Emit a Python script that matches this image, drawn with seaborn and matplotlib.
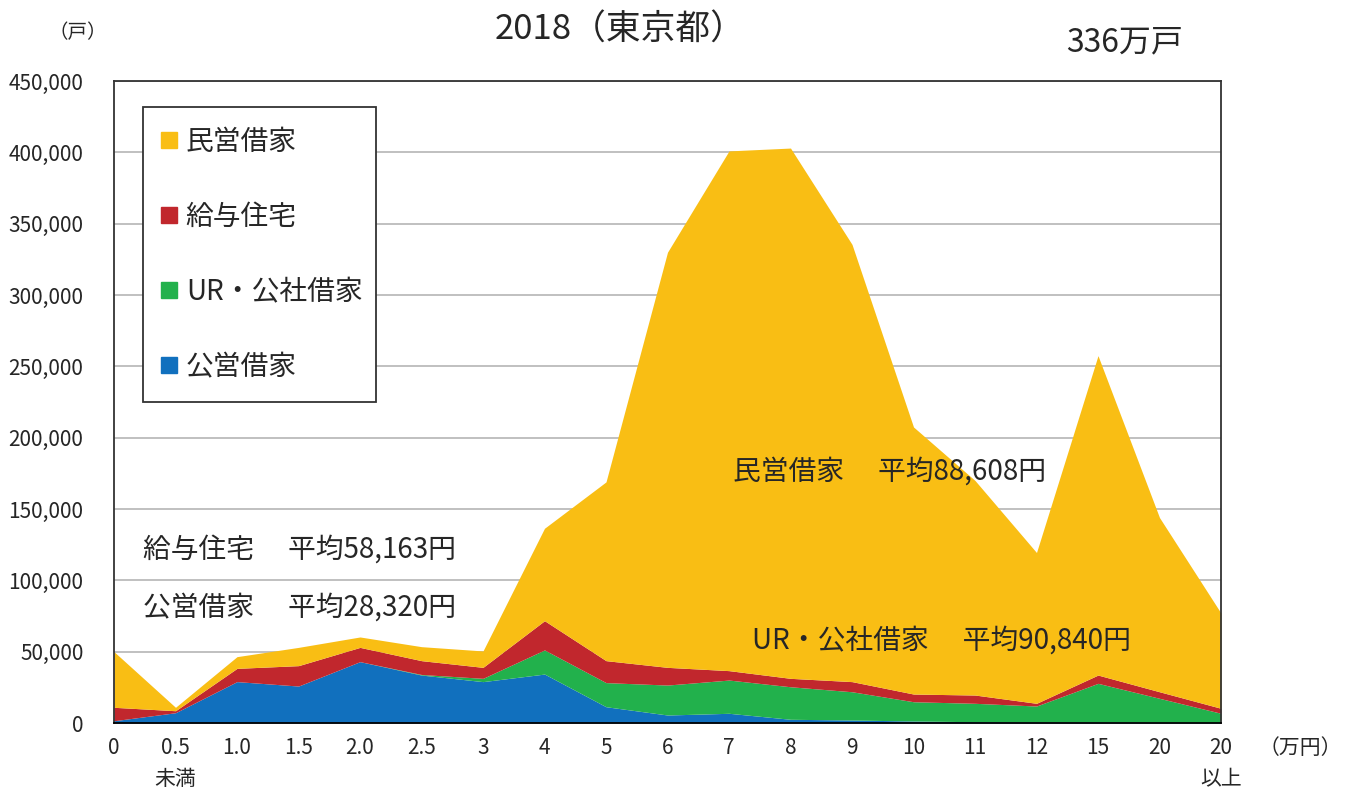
import matplotlib
matplotlib.use("Agg")
import matplotlib.pyplot as plt
import seaborn as sns
import numpy as np
from matplotlib.lines import Line2D
from matplotlib.patches import Rectangle

# ---- data ----
x_labels = ["0", "0.5\n未満", "1.0", "1.5", "2.0", "2.5", "3", "4", "5", "6", "7",
            "8", "9", "10", "11", "12", "15", "20", "20\n以上"]
public_rental = [1600, 7200, 29000, 25900, 43000, 33600, 29000, 34300, 11400, 5600, 6800,
                 2600, 2100, 1400, 900, 700, 700, 500, 300]
ur_rental = [0, 0, 0, 0, 0, 400, 2300, 16900, 16900, 21000, 23300,
             22800, 19800, 13500, 12900, 11200, 27100, 16800, 6500]
salary_housing = [9400, 1400, 9300, 14300, 10000, 9700, 7700, 20500, 15400, 12400, 6600,
                  5900, 7100, 5400, 5800, 1900, 5800, 4600, 3500]
private_rental = [39000, 2400, 8200, 12800, 7300, 9800, 11500, 64800, 125300, 291000, 364300,
                  371700, 306500, 187200, 150400, 105700, 223900, 122100, 66700]
series_names = ["公営借家", "UR・公社借家", "給与住宅", "民営借家"]
colors = ["#1170BE", "#22B14C", "#C1272D", "#F9BE14"]
y_ticks = list(range(0, 450001, 50000))

sns.set_theme(style="white")
plt.rcParams['font.family'] = ['Noto Sans CJK JP', 'DejaVu Sans']

W, H = 1346, 794
fig = plt.figure(figsize=(13.46, 7.94), dpi=100)
ax = fig.add_axes([114/W, 1-723/H, (1221-114)/W, (723-81)/H])

xs = np.arange(len(x_labels))
ax.stackplot(xs, public_rental, ur_rental, salary_housing, private_rental,
             colors=colors, linewidth=0, zorder=2)

ax.set_xlim(0, len(x_labels)-1)
ax.set_ylim(0, 450000)
ax.set_yticks(y_ticks)
ax.set_yticklabels([f"{v:,}" for v in y_ticks], fontsize=15)
ax.set_xticks(xs)
ax.set_xticklabels(x_labels, fontsize=15, linespacing=1.55)
ax.yaxis.grid(True, color="#BBBBBB", linewidth=1.3, zorder=1)
ax.set_axisbelow(True)
ax.tick_params(axis="x", direction="inout", length=12, width=1.2, color="black", pad=4)
ax.tick_params(axis="y", length=0, pad=22)
for s in ax.spines.values():
    s.set_color("#333333")
    s.set_linewidth(1.3)
ax.spines["bottom"].set_color("black")

# legend (frame drawn separately)
fig.patches.append(Rectangle((143/W, 1-402/H), (376-143)/W, (402-107)/H,
                             transform=fig.transFigure, facecolor="white",
                             edgecolor="#333333", linewidth=1.3, zorder=5))
handles = [Line2D([], [], marker="s", linestyle="", markersize=11.5,
                  markerfacecolor=c, markeredgecolor=c) for c in colors[::-1]]
leg = fig.legend(handles, series_names[::-1], loc="upper left",
                 bbox_to_anchor=(158/W, 1-127/H),
                 fontsize=20, frameon=False,
                 labelspacing=1.62, handletextpad=0.2, borderpad=0, handlelength=0.8,
                 borderaxespad=0)
leg.set_zorder(6)

# annotations
fs = 20
def ptext(px, py, s, size=fs, ha="left"):
    fig.text(px/W, 1-py/H, s, fontsize=size, ha=ha, va="center")

ptext(733, 472, "民営借家　 平均88,608円")
ptext(143, 550, "給与住宅　 平均58,163円")
ptext(143, 608, "公営借家　 平均28,320円")
ptext(752, 641, "UR・公社借家　 平均90,840円")

ptext(620, 30, "2018（東京都）", size=25, ha="center")
ptext(1125, 42, "336万戸", size=23, ha="center")
ptext(78, 33, "（戸）", size=14, ha="center")
ptext(1300, 748, "（万円）", size=15, ha="center")

fig.savefig("out.png", dpi=100)
